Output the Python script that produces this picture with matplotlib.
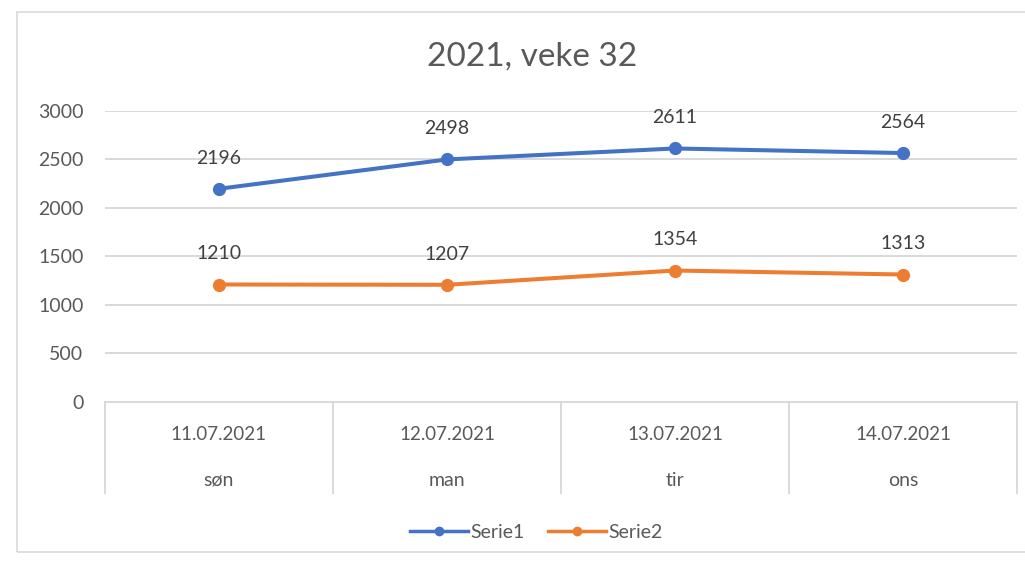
import matplotlib
matplotlib.use("Agg")
import matplotlib.pyplot as plt
import matplotlib.transforms as mtransforms
from matplotlib.patches import Rectangle
from matplotlib.lines import Line2D

# data
dates = ["11.07.2021", "12.07.2021", "13.07.2021", "14.07.2021"]
weekdays = ["søn", "man", "tir", "ons"]
serie1 = [2196, 2498, 2611, 2564]
serie2 = [1210, 1207, 1354, 1313]
yticks = [0, 500, 1000, 1500, 2000, 2500, 3000]
title = "2021, veke 32"

plt.rcParams['font.family'] = ['Lato', 'DejaVu Sans']
gray = '#595959'
grid_col = '#d9d9d9'
blue = '#4472C4'
orange = '#ED7D31'

W, H = 1025, 562
fig = plt.figure(figsize=(W / 100, H / 100), dpi=100)
fig.patch.set_facecolor('white')

# chart frame
fig.add_artist(Rectangle((17 / W, 1 - 552 / H), 1.2, 540 / H, transform=fig.transFigure,
                         fill=False, edgecolor='#d9d9d9', linewidth=1.2))

left, right, bottom, top = 105 / W, 1017 / W, 1 - 402 / H, 1 - 110.7 / H
ax = fig.add_axes([left, bottom, right - left, top - bottom])

x = list(range(len(dates)))
ax.plot(x, serie1, color=blue, linewidth=2.9, marker='o', markersize=8.5, zorder=3)
ax.plot(x, serie2, color=orange, linewidth=2.9, marker='o', markersize=8.5, zorder=3)

for ys in [serie1, serie2]:
    for xi, yi in zip(x, ys):
        ax.annotate(str(yi), (xi, yi), xytext=(0, 22), textcoords='offset points',
                    ha='center', va='center', fontsize=14, color='#404040')

ax.set_xlim(-0.5, len(dates) - 0.5)
ax.set_ylim(0, 3000)
ax.set_yticks(yticks)
ax.set_yticklabels([str(t) for t in yticks], fontsize=14, color=gray)
ax.tick_params(axis='y', length=0, pad=15.5)
ax.set_xticks([])
ax.grid(axis='y', color=grid_col, linewidth=1.4)
ax.set_axisbelow(True)
for pos in ['top', 'right', 'left']:
    ax.spines[pos].set_visible(False)
ax.spines['bottom'].set_color(grid_col)
ax.spines['bottom'].set_linewidth(1.4)

# category table below the axis
trans = mtransforms.blended_transform_factory(ax.transData, ax.transAxes)
for i in range(len(dates) + 1):
    ax.plot([i - 0.5, i - 0.5], [0, -0.312], transform=trans, color=grid_col,
            linewidth=1.4, clip_on=False)
for i, (d, w) in enumerate(zip(dates, weekdays)):
    ax.text(i, -0.113, d, transform=trans, ha='center', va='center', fontsize=13.5, color=gray)
    ax.text(i, -0.268, w, transform=trans, ha='center', va='center', fontsize=14, color=gray)

fig.text(532 / W, 1 - 57 / H, title, ha='center', va='center', fontsize=24, color=gray)

handles = [Line2D([], [], color=blue, linewidth=2.5, marker='o', markersize=6),
           Line2D([], [], color=orange, linewidth=2.5, marker='o', markersize=6)]
fig.legend(handles, ['Serie1', 'Serie2'], loc='center', bbox_to_anchor=(536 / W, 1 - 532 / H),
           ncol=2, frameon=False, fontsize=14, labelcolor=gray, handlelength=3.0,
           handletextpad=0.1, columnspacing=1.2)

fig.savefig('out.png', dpi=100)
